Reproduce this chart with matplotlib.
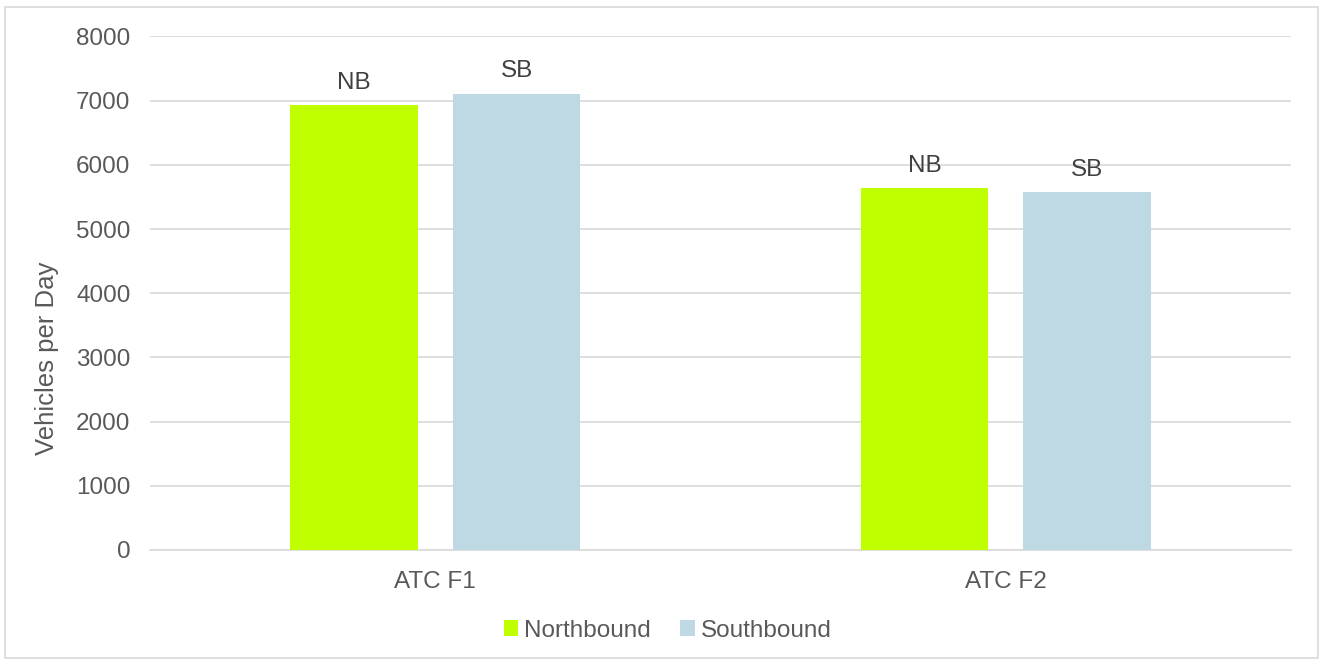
import matplotlib.pyplot as plt
from matplotlib.patches import Rectangle
import numpy as np

categories = ["ATC F1", "ATC F2"]
northbound = [6930, 5640]
southbound = [7110, 5580]
series_names = ["Northbound", "Southbound"]
bar_labels = ["NB", "SB"]
colors = ["#bfff00", "#bed9e3"]

plt.rcParams["font.family"] = ["Arial", "Liberation Sans", "DejaVu Sans"]

fig = plt.figure(figsize=(13.22, 6.61), dpi=100)
ax = fig.add_axes([0.1135, 0.168, 0.8631, 0.7768])

x = np.arange(len(categories))
width = 0.224
offset = 0.1425
for vals, off, col, name, lab in zip([northbound, southbound], [-offset, offset],
                                      colors, series_names, bar_labels):
    bars = ax.bar(x + off, vals, width, color=col, label=name, zorder=3)
    for b in bars:
        ax.annotate(lab, (b.get_x() + b.get_width() / 2, b.get_height()),
                    xytext=(0, 8), textcoords="offset points",
                    ha="center", va="bottom", fontsize=17.5, color="#404040")

ax.set_xlim(-0.5, 1.5)
ax.set_ylim(0, 8000)
ax.set_yticks(range(0, 8001, 1000))
ax.set_xticks(x, categories)
ax.grid(axis="y", color="#d9d9d9", linewidth=1.2, zorder=0)
for s in ["top", "right", "left"]:
    ax.spines[s].set_visible(False)
ax.spines["bottom"].set_color("#d9d9d9")
ax.spines["bottom"].set_linewidth(1.2)
ax.tick_params(axis="both", length=0, labelsize=17.5, labelcolor="#595959")
ax.tick_params(axis="y", pad=14)
ax.tick_params(axis="x", pad=15)
ax.set_ylabel("Vehicles per Day", fontsize=18.5, color="#595959")
ax.yaxis.set_label_coords(-0.080, 0.374)

fig.legend(loc="center", bbox_to_anchor=(0.505, 0.046), ncol=2, frameon=False,
           fontsize=17.5, labelcolor="#595959", handlelength=0.6, handleheight=0.6,
           handletextpad=0.25, columnspacing=1.2)

fig.patches.append(Rectangle((0.004, 0.004), 0.993, 0.985, transform=fig.transFigure,
                             fill=False, edgecolor="#d9d9d9", linewidth=1.2))

fig.savefig("out.png", dpi=100)
